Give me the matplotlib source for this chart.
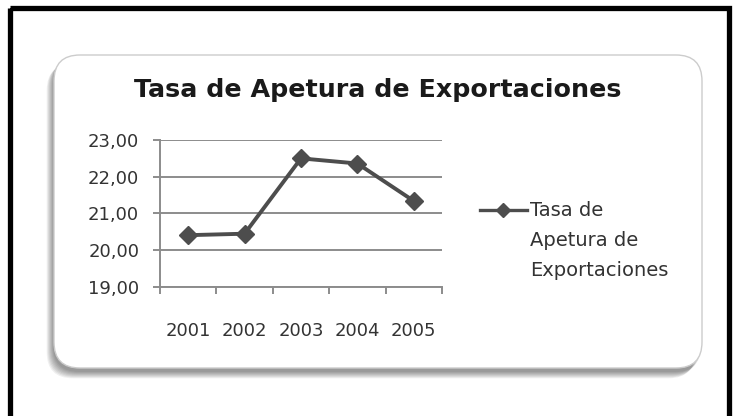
import numpy as np
import matplotlib.pyplot as plt
from matplotlib.patches import FancyBboxPatch, Rectangle
from matplotlib.lines import Line2D

years = ["2001", "2002", "2003", "2004", "2005"]
tasa = [20.41, 20.45, 22.50, 22.36, 21.34]
yticks = [19, 20, 21, 22, 23]
ytick_labels = ["19,00", "20,00", "21,00", "22,00", "23,00"]
title = "Tasa de Apetura de Exportaciones"
legend_lines = ["Tasa de", "Apetura de", "Exportaciones"]

plt.rcParams['font.family'] = ['DejaVu Sans']

W, H = 733, 416
fig = plt.figure(figsize=(W / 100, H / 100), dpi=100)
fig.patch.set_facecolor("white")

# background layer in pixel coords
bg = fig.add_axes([0, 0, 1, 1], zorder=0)
bg.set_xlim(0, W)
bg.set_ylim(H, 0)
bg.axis("off")

# black frame (bottom edge runs off the picture)
bg.add_patch(Rectangle((10, 8), 719, 430, fill=False, ec="black", lw=3.8, clip_on=False))

# shadow of the rounded card
for i in range(8):
    bg.add_patch(FancyBboxPatch((53 - i * 0.9, 58 + i * 0.9), 648, 314,
                                boxstyle="round,pad=0,rounding_size=26",
                                fc="#000000", ec="none", alpha=0.06))
bg.add_patch(FancyBboxPatch((54, 55), 648, 313,
                            boxstyle="round,pad=0,rounding_size=26",
                            fc="white", ec="#cccccc", lw=1.0))

bg.text(378, 90, title, ha="center", va="center", fontsize=18.3,
        fontweight="bold", color="#1a1a1a")

# legend
bg.add_line(Line2D([480, 527], [210, 210], color="#4d4d4d", lw=2.4))
bg.add_line(Line2D([503], [210], color="#4d4d4d", marker="D", ms=7, lw=0))
for i, s in enumerate(legend_lines):
    bg.text(530, 210 + i * 30.5, s, ha="left", va="center", fontsize=14, color="#333333")

# chart
ax = fig.add_axes([160 / W, 1 - 287 / H, 282 / W, 147 / H], zorder=1)
ax.patch.set_alpha(0)
x = np.arange(1, len(years) + 1)
ax.plot(x, tasa, color="#4d4d4d", lw=2.8, marker="D", ms=9, mec="#4d4d4d", zorder=3)

ax.set_xlim(0.5, len(years) + 0.5)
ax.set_ylim(19, 23)
ax.set_yticks(yticks)
ax.set_yticklabels(ytick_labels)
ax.set_xticks(x)
ax.set_xticklabels(years)
ax.set_xticks(np.arange(0.5, len(years) + 1, 1), minor=True)
ax.yaxis.grid(True, color="#8c8c8c", lw=1.4)
ax.set_axisbelow(True)
for s in ["top", "right"]:
    ax.spines[s].set_visible(False)
for s in ["left", "bottom"]:
    ax.spines[s].set_color("#8c8c8c")
    ax.spines[s].set_linewidth(1.4)
ax.tick_params(axis="x", which="major", length=0, pad=25, labelsize=13, colors="#333333")
ax.tick_params(axis="x", which="minor", length=5, width=1.4, color="#8c8c8c")
ax.tick_params(axis="y", length=5, width=1.4, color="#8c8c8c", pad=10, labelsize=13,
               labelcolor="#333333")

fig.savefig("out.png", dpi=100)
